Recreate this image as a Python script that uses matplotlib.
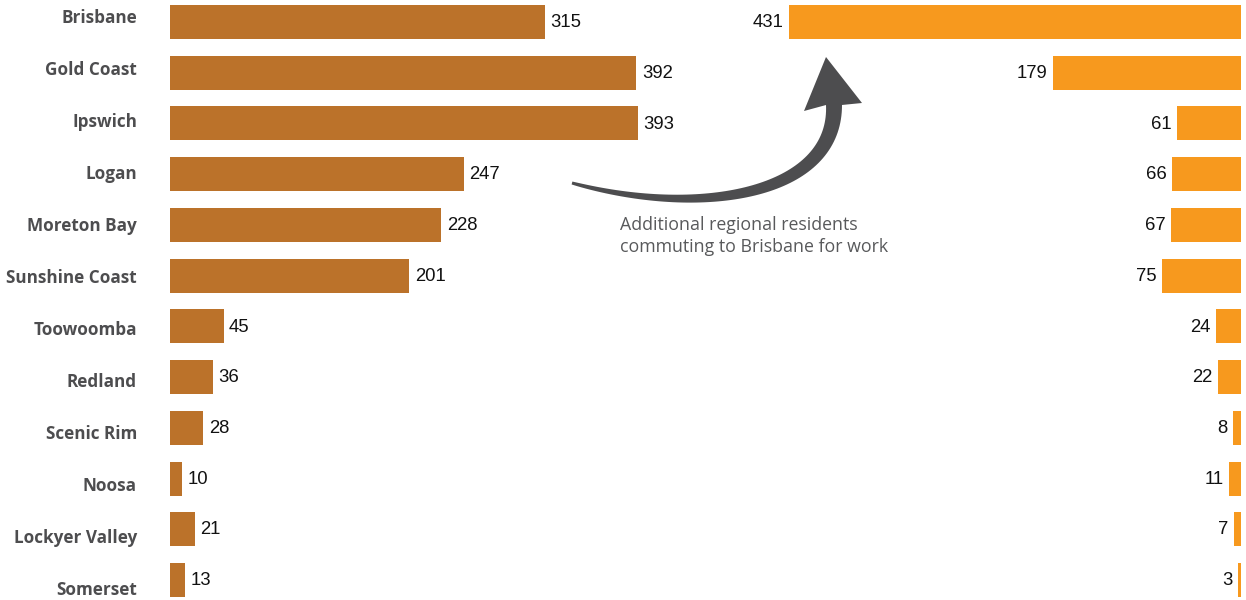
import matplotlib.pyplot as plt
from matplotlib.patches import Polygon
import numpy as np

regions = ['Brisbane', 'Gold Coast', 'Ipswich', 'Logan', 'Moreton Bay',
           'Sunshine Coast', 'Toowoomba', 'Redland', 'Scenic Rim', 'Noosa',
           'Lockyer Valley', 'Somerset']
left_vals = [315, 392, 393, 247, 228, 201, 45, 36, 28, 10, 21, 13]
right_vals = [431, 179, 61, 66, 67, 75, 24, 22, 8, 11, 7, 3]

left_color = '#BB722A'
right_color = '#F7991E'
label_color = '#4D4D4F'

W, H = 1246, 600
fig = plt.figure(figsize=(W / 100, H / 100), dpi=100)

y = np.arange(len(regions))
row_h = 50.73
top = -22 / row_h
bottom = (H - 22) / row_h

# left panel: 1.19 px per unit, starting at x=170
axl = fig.add_axes([170 / W, 0, 530 / W, 1])
axl.barh(y, left_vals, height=34 / row_h, color=left_color)
axl.set_xlim(0, 530 / 1.19)
axl.set_ylim(bottom, top)
for yi, v in zip(y, left_vals):
    axl.annotate(str(v), (v, yi), xytext=(4, -0.5), textcoords='offset points',
                 va='center', ha='left', fontsize=13.3, family='Liberation Sans',
                 color='#111111')

# right panel: 1.048 px per unit, bars anchored at x=1241
axr = fig.add_axes([700 / W, 0, 541 / W, 1])
axr.barh(y, right_vals, height=34 / row_h, color=right_color)
axr.set_xlim(541 / 1.048, 0)
axr.set_ylim(bottom, top)
for yi, v in zip(y, right_vals):
    axr.annotate(str(v), (v, yi), xytext=(-4, -0.5), textcoords='offset points',
                 va='center', ha='right', fontsize=13.3, family='Liberation Sans',
                 color='#111111')

for ax in (axl, axr):
    ax.axis('off')

# category labels (sit a touch lower than the bars as in the original)
for i, name in enumerate(regions):
    fig.text(137 / W, 1 - (18 + 52 * i) / H, name, ha='right', va='center',
             fontsize=12.3, fontweight='bold', family='Open Sans', color=label_color)

# curved arrow, thin at the tail and widening toward the head (pixel coords, y down)
p0, p1, p2, p3 = map(np.array, [(572, 183), (700, 218), (836, 195), (834, 105)])
t = np.linspace(0, 1, 80)[:, None]
pts = (1 - t) ** 3 * p0 + 3 * (1 - t) ** 2 * t * p1 + 3 * (1 - t) * t ** 2 * p2 + t ** 3 * p3
d = np.gradient(pts, axis=0)
d /= np.linalg.norm(d, axis=1)[:, None]
nrm = np.column_stack([-d[:, 1], d[:, 0]])
w = (3 + 13 * t[:, 0] ** 0.8) / 2
upper = pts + nrm * w[:, None]
lower = pts - nrm * w[:, None]
head = np.array([(862, 103), (826, 57), (804, 111)])
outline = np.vstack([upper, head, lower[::-1]])
outline = np.column_stack([outline[:, 0] / W, 1 - outline[:, 1] / H])
fig.patches.append(Polygon(outline, closed=True, transform=fig.transFigure,
                           facecolor='#4D4D4F', edgecolor='none'))

fig.text(620 / W, 1 - 216 / H, 'Additional regional residents\ncommuting to Brisbane for work',
         ha='left', va='top', fontsize=12.8, family='Open Sans', color='#58595B',
         linespacing=1.3)

fig.savefig('out.png', dpi=100)
